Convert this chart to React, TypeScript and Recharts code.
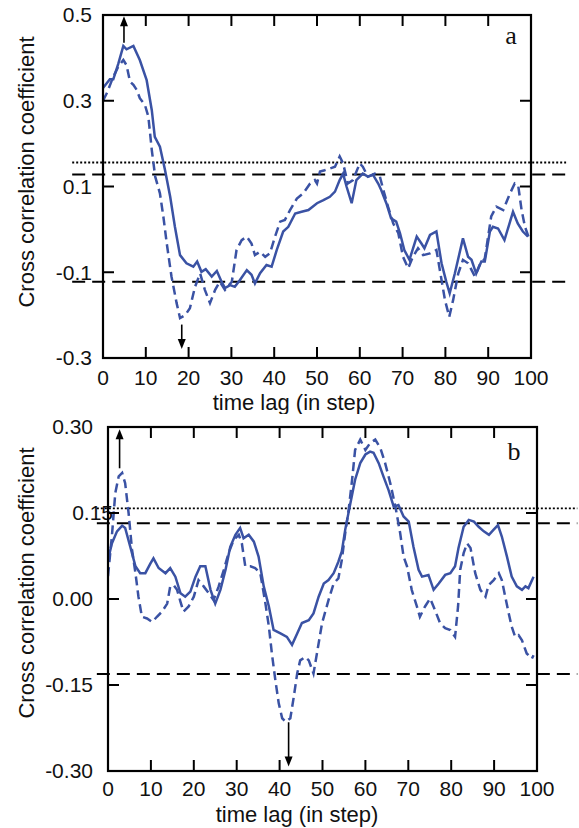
import { LineChart, Line, XAxis, YAxis, ReferenceLine } from "recharts";

// panel a
const lagASolid = [0, 1.6, 2.4, 3.6, 4.75, 5.5, 7.1, 8.6, 10.2, 11.4, 12.1, 13.3, 14.5, 15.7, 16.8, 18, 19.5, 21.1, 22, 23, 24, 25.4, 26.6, 27.7, 28.5, 29.7, 30.8, 32, 33.6, 34.7, 35.5, 36.7, 38.2, 39.4, 40.6, 42.1, 43.3, 44.9, 46.4, 48, 50, 51.5, 53, 54.2, 55.3, 56.1, 56.9, 58.1, 59.2, 60.7, 61.9, 63.1, 64.3, 65, 66.2, 67.3, 68.5, 69.4, 70.4, 71.6, 73.3, 74.4, 75.1, 76.4, 77.9, 79.1, 80.2, 81, 82.2, 84.1, 85.3, 86.1, 87.2, 88.4, 89.2, 90.4, 91.1, 92.3, 93.8, 95.8, 96.9, 98.1, 99.3];
const corrASolid = [0.33, 0.35, 0.35, 0.387, 0.428, 0.42, 0.428, 0.395, 0.348, 0.278, 0.216, 0.193, 0.138, 0.076, 0.006, -0.06, -0.079, -0.087, -0.075, -0.099, -0.093, -0.11, -0.097, -0.122, -0.137, -0.13, -0.134, -0.118, -0.095, -0.106, -0.126, -0.102, -0.083, -0.087, -0.048, -0.005, 0.006, 0.037, 0.041, 0.045, 0.061, 0.068, 0.076, 0.088, 0.115, 0.13, 0.1, 0.061, 0.115, 0.13, 0.123, 0.127, 0.107, 0.092, 0.061, 0.026, 0.018, -0.009, -0.048, -0.071, -0.017, -0.033, -0.044, -0.013, -0.005, -0.079, -0.122, -0.149, -0.103, -0.021, -0.064, -0.071, -0.103, -0.075, -0.075, -0.005, 0.006, 0.002, -0.025, 0.041, 0.014, -0.005, -0.017];

const lagADashed = [0, 1, 2.4, 3.6, 4.75, 5.5, 6.3, 7.1, 7.9, 8.6, 9.8, 10.6, 11.4, 12.2, 13.3, 14.1, 14.9, 16, 17.2, 18, 19.2, 20.3, 21.5, 22.7, 23.8, 25, 26.2, 27.3, 28.5, 30.1, 31.2, 32.4, 33.6, 34.7, 35.5, 36.7, 37.9, 39, 40.2, 41.4, 42.5, 43.7, 45.3, 46.8, 48.4, 49.5, 50, 50.7, 51.8, 53, 54.2, 55.3, 56.1, 57.2, 58.4, 60, 60.7, 61.9, 63.5, 64.7, 65.5, 66.6, 67.8, 69, 70.1, 71.3, 72.4, 73.6, 74.8, 76.4, 77.9, 79.1, 79.9, 80.9, 81.8, 83, 84.1, 85.3, 86.9, 88, 89.2, 90.7, 91.9, 93.5, 95.1, 96.2, 97, 97.8, 98.6, 99.4];
const corrADashed = [0.3, 0.32, 0.356, 0.38, 0.395, 0.383, 0.345, 0.337, 0.325, 0.306, 0.29, 0.263, 0.185, 0.123, 0.084, 0.03, -0.033, -0.11, -0.172, -0.207, -0.2, -0.184, -0.134, -0.103, -0.141, -0.172, -0.141, -0.122, -0.141, -0.122, -0.048, -0.025, -0.017, -0.033, -0.06, -0.052, -0.064, -0.056, -0.017, 0.018, 0.022, 0.045, 0.072, 0.084, 0.107, 0.115, 0.107, 0.135, 0.138, 0.142, 0.146, 0.17, 0.154, 0.107, 0.115, 0.154, 0.146, 0.123, 0.13, 0.123, 0.092, 0.053, 0.014, -0.009, -0.064, -0.091, -0.064, -0.044, -0.06, -0.056, -0.048, -0.118, -0.165, -0.204, -0.165, -0.103, -0.071, -0.079, -0.11, -0.083, -0.068, 0.03, 0.053, 0.045, 0.084, 0.107, 0.103, 0.045, 0.006, -0.017];

// panel b
const lagBSolid = [0, 0.9, 2.1, 3.3, 4, 5.2, 6.4, 7.5, 8.7, 9.9, 10.6, 11.8, 13.4, 14.5, 15.7, 16.9, 18, 19.2, 20.4, 21.5, 22.7, 23.9, 25, 26.2, 27.4, 28.5, 29.7, 30.8, 31.6, 32.8, 34, 35.1, 36.3, 37.5, 38.6, 40.2, 41.7, 42.9, 44.1, 45.2, 46.8, 47.9, 49.1, 50.3, 51.4, 52.6, 53.7, 54.5, 55.3, 56.5, 57.6, 58.8, 60, 61.1, 61.9, 63.1, 64.2, 65.4, 66.6, 67.7, 68.9, 70.1, 71.2, 72.4, 73.2, 74.7, 75.9, 77.1, 78.6, 79.8, 80.9, 81.7, 82.9, 84.1, 85.3, 86.4, 87.6, 88.8, 89.9, 90.9, 91.8, 93, 94.1, 95.3, 96.5, 97.3, 98, 99.2];
const corrBSolid = [0.068, 0.097, 0.118, 0.128, 0.124, 0.091, 0.057, 0.045, 0.045, 0.062, 0.071, 0.054, 0.045, 0.054, 0.039, 0.01, 0.004, 0.013, 0.039, 0.057, 0.057, 0.016, -0.008, 0.016, 0.051, 0.091, 0.112, 0.124, 0.106, 0.112, 0.1, 0.074, 0.022, -0.013, -0.054, -0.06, -0.066, -0.08, -0.06, -0.042, -0.037, -0.025, 0.004, 0.027, 0.033, 0.045, 0.065, 0.083, 0.121, 0.167, 0.208, 0.237, 0.252, 0.257, 0.255, 0.237, 0.214, 0.19, 0.161, 0.164, 0.144, 0.135, 0.091, 0.051, 0.039, 0.042, 0.016, 0.027, 0.042, 0.045, 0.057, 0.089, 0.126, 0.138, 0.135, 0.126, 0.118, 0.112, 0.121, 0.129, 0.109, 0.074, 0.039, 0.022, 0.016, 0.022, 0.019, 0.039];

const lagBDashed = [0, 0.9, 1.7, 2.5, 3.3, 4, 4.8, 5.6, 6.4, 7.1, 7.9, 9.1, 10.3, 11.4, 12.6, 13.8, 14.5, 15.3, 16.1, 16.9, 17.6, 18.8, 20, 21.1, 22.3, 23.5, 24.6, 25.8, 27, 28.1, 29.3, 30.5, 31.2, 32, 33.2, 34.3, 35.5, 36.7, 37.5, 38.2, 39, 39.8, 40.6, 41.4, 42.5, 43.3, 44.1, 44.8, 46, 46.8, 47.9, 48.7, 49.9, 51.4, 52.6, 53.7, 54.5, 55.3, 56.1, 56.9, 57.6, 58.8, 60, 61.1, 62.3, 63.5, 64.6, 65.8, 67, 68.1, 68.9, 69.7, 70.8, 72, 72.7, 73.9, 75.1, 76.2, 77.4, 78.6, 79.8, 80.9, 81.6, 82.1, 82.9, 83.7, 84.5, 85.6, 86.8, 88, 88.7, 89.9, 91.1, 91.8, 92.6, 93.4, 94.1, 94.9, 95.7, 96.5, 97.6, 98.8, 99.2];
const corrBDashed = [0.04, 0.109, 0.185, 0.214, 0.22, 0.202, 0.15, 0.086, 0.045, 0.004, -0.031, -0.034, -0.04, -0.031, -0.022, -0.008, 0.022, 0.024, 0.016, -0.005, -0.022, -0.013, 0.004, 0.033, 0.022, 0.01, -0.002, 0.022, 0.051, 0.08, 0.103, 0.112, 0.097, 0.057, 0.057, 0.054, 0.045, -0.008, -0.048, -0.095, -0.141, -0.182, -0.208, -0.214, -0.208, -0.171, -0.13, -0.107, -0.101, -0.107, -0.13, -0.095, -0.042, -0.002, 0.027, 0.036, 0.068, 0.115, 0.156, 0.208, 0.26, 0.278, 0.26, 0.272, 0.278, 0.263, 0.237, 0.202, 0.161, 0.115, 0.074, 0.057, 0.016, -0.013, -0.031, -0.013, 0.001, -0.019, -0.042, -0.051, -0.054, -0.066, -0.013, 0.051, 0.08, 0.097, 0.089, 0.045, 0.016, 0.004, 0.024, 0.033, 0.045, 0.033, 0.004, -0.025, -0.048, -0.066, -0.063, -0.072, -0.095, -0.104, -0.098];

const xTicks = [0, 10, 20, 30, 40, 50, 60, 70, 80, 90, 100];
const yTicksA = [-0.3, -0.1, 0.1, 0.3, 0.5];
const yTicksB = [-0.3, -0.15, 0, 0.15, 0.3];

// significance levels: dotted, upper dashed, lower dashed
const levelsA = [0.156, 0.128, -0.122];
const levelsB = [0.158, 0.132, -0.131];

// arrows: lag, start value, tip value
const arrowsA = [
  { lag: 4.9, from: 0.435, to: 0.497 },
  { lag: 18.4, from: -0.222, to: -0.279 },
];
const arrowsB = [
  { lag: 2.7, from: 0.228, to: 0.296 },
  { lag: 42.1, from: -0.215, to: -0.292 },
];

const BLUE = "#3a52a4";
const SANS = "Liberation Sans, Arial, sans-serif";
const SERIF = "Liberation Serif, Times New Roman, serif";
const TICK = 11;
const W = 579;
const H = 414;

const zip = (xs: number[], ys: number[]) => xs.map((x, i) => ({ x, y: ys[i] }));

const Arrow = (p: any) => {
  const { x1, y1, x2, y2 } = p;
  const d = y2 > y1 ? 1 : -1;
  return (
    <g>
      <line x1={x1} y1={y1} x2={x2} y2={y2 - d * 7} stroke="#000" strokeWidth={1.6} />
      <polygon points={`${x2},${y2} ${x2 - 4},${y2 - d * 10} ${x2 + 4},${y2 - d * 10}`} fill="#000" />
    </g>
  );
};

interface PanelProps {
  top: number;
  margin: { top: number; right: number; bottom: number; left: number };
  yWidth: number;
  xHeight: number;
  yDomain: [number, number];
  yTicks: number[];
  digits: number;
  solid: { x: number; y: number }[];
  dashed: { x: number; y: number }[];
  levels: number[];
  levelSpan: [number, number];
  arrows: { lag: number; from: number; to: number }[];
  letter: string;
  letterPos: [number, number];
  titleY: number;
  xTitlePos: [number, number];
  labelGap: number;
  xLabelGap: number;
}

const Panel = (p: PanelProps) => {
  const [y0, y1] = p.yDomain;
  const plotX = p.margin.left + p.yWidth;
  const plotY = p.margin.top;
  const plotW = W - p.margin.right - plotX;
  const plotH = H - p.margin.top - p.xHeight;
  // same linear layout the chart uses for its plot area, for the frame overlay
  const px = (v: number) => plotX + (v / 100) * plotW;
  const py = (v: number) => plotY + ((y1 - v) / (y1 - y0)) * plotH;

  const leftTick = (t: any) => {
    const v = t.payload.value;
    const shift = p.letter === "b" && v === 0.15 ? 5 : -p.labelGap;
    return (
      <text x={Number(t.x) + shift} y={t.y} dy="0.35em" textAnchor="end" fontSize={21} fontFamily={SANS} fill="#111">
        {v.toFixed(p.digits)}
      </text>
    );
  };
  const bottomTick = (t: any) => (
    <text x={t.x} y={Number(t.y) + p.xLabelGap} textAnchor="middle" fontSize={21} fontFamily={SANS} fill="#111">
      {t.payload.value}
    </text>
  );
  const [lo, hi] = p.levelSpan;

  return (
    <div style={{ position: "absolute", left: 0, top: p.top, width: W, height: H }}>
      <LineChart width={W} height={H} margin={p.margin}>
        <XAxis dataKey="x" type="number" domain={[0, 100]} ticks={xTicks} interval={0} allowDataOverflow
          height={p.xHeight} tickSize={0} tickMargin={0} tickLine={false} axisLine={false} tick={bottomTick} />
        <YAxis type="number" domain={p.yDomain} ticks={p.yTicks} interval={0} allowDataOverflow width={p.yWidth}
          tickSize={0} tickMargin={0} tickLine={false} axisLine={false} tick={leftTick} />
        <ReferenceLine segment={[{ x: lo, y: p.levels[0] }, { x: hi, y: p.levels[0] }]} ifOverflow="visible"
          stroke="#000" strokeWidth={1.8} strokeDasharray="2 2" />
        <ReferenceLine segment={[{ x: lo, y: p.levels[1] }, { x: hi, y: p.levels[1] }]} ifOverflow="visible"
          stroke="#000" strokeWidth={2} strokeDasharray="13 7" />
        <ReferenceLine segment={[{ x: lo, y: p.levels[2] }, { x: hi, y: p.levels[2] }]} ifOverflow="visible"
          stroke="#000" strokeWidth={2} strokeDasharray="13 7" />
        <Line data={p.solid} dataKey="y" type="linear" stroke={BLUE} strokeWidth={2.5} dot={false}
          isAnimationActive={false} />
        <Line data={p.dashed} dataKey="y" type="linear" stroke={BLUE} strokeWidth={2.5} strokeDasharray="9 5"
          dot={false} isAnimationActive={false} />
        {p.arrows.map((a, i) => (
          <ReferenceLine key={`ar${i}`} segment={[{ x: a.lag, y: a.from }, { x: a.lag, y: a.to }]}
            ifOverflow="visible" shape={Arrow} />
        ))}
        <text x={p.letterPos[0]} y={p.letterPos[1]} textAnchor="middle" fontSize={26} fontFamily={SERIF} fill="#111">
          {p.letter}
        </text>
        <text x={34} y={p.titleY} transform={`rotate(-90, 34, ${p.titleY})`} textAnchor="middle" fontSize={22}
          fontFamily={SANS} fill="#111">
          Cross correlation coefficient
        </text>
        <text x={p.xTitlePos[0]} y={p.xTitlePos[1]} textAnchor="middle" fontSize={22} fontFamily={SANS} fill="#111">
          time lag (in step)
        </text>
      </LineChart>
      {/* box frame with inward ticks, drawn over the chart */}
      <svg width={W} height={H} style={{ position: "absolute", left: 0, top: 0, pointerEvents: "none" }}>
        <rect x={plotX} y={plotY} width={plotW} height={plotH} fill="none" stroke="#000" strokeWidth={2.2} />
        {xTicks.slice(1, -1).map((v) => (
          <g key={`x${v}`}>
            <line x1={px(v)} x2={px(v)} y1={plotY} y2={plotY + TICK} stroke="#000" strokeWidth={2} />
            <line x1={px(v)} x2={px(v)} y1={plotY + plotH} y2={plotY + plotH - TICK} stroke="#000" strokeWidth={2} />
          </g>
        ))}
        {p.yTicks.slice(1, -1).map((v) => (
          <g key={`y${v}`}>
            <line x1={plotX} x2={plotX + TICK} y1={py(v)} y2={py(v)} stroke="#000" strokeWidth={2} />
            <line x1={plotX + plotW} x2={plotX + plotW - TICK} y1={py(v)} y2={py(v)} stroke="#000" strokeWidth={2} />
          </g>
        ))}
      </svg>
    </div>
  );
};

export default function App() {
  return (
    <div style={{ position: "absolute", left: 0, top: 0, width: W, height: 828, background: "#fff" }}>
      <Panel
        top={0}
        margin={{ top: 15, right: 48, bottom: 0, left: 0 }}
        yWidth={103}
        xHeight={56}
        yDomain={[-0.3, 0.5]}
        yTicks={yTicksA}
        digits={1}
        solid={zip(lagASolid, corrASolid)}
        dashed={zip(lagADashed, corrADashed)}
        levels={levelsA}
        levelSpan={[-7.2, 108.2]}
        arrows={arrowsA}
        letter="a"
        letterPos={[511, 44]}
        titleY={172}
        xTitlePos={[294, 410]}
        labelGap={11}
        xLabelGap={27}
      />
      <Panel
        top={414}
        margin={{ top: 13, right: 42, bottom: 0, left: 0 }}
        yWidth={108}
        xHeight={57}
        yDomain={[-0.3, 0.3]}
        yTicks={yTicksB}
        digits={2}
        solid={zip(lagBSolid, corrBSolid)}
        dashed={zip(lagBDashed, corrBDashed)}
        levels={levelsB}
        levelSpan={[-2.6, 109.4]}
        arrows={arrowsB}
        letter="b"
        letterPos={[514, 46]}
        titleY={169}
        xTitlePos={[297, 408]}
        labelGap={15}
        xLabelGap={25}
      />
    </div>
  );
}
